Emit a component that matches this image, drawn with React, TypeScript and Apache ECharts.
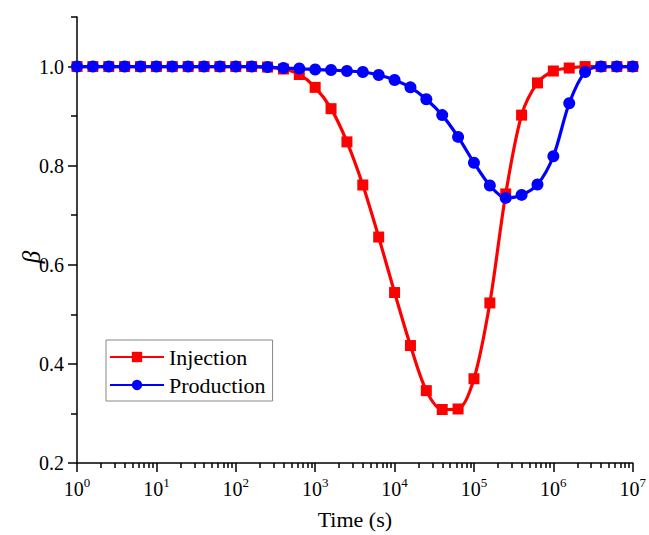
import React, { useEffect, useRef } from "react";
import * as echarts from "echarts";

const times = [
  1, 1.585, 2.512, 3.981, 6.31, 10, 15.85, 25.12, 39.81, 63.1,
  100, 158.5, 251.2, 398.1, 631.0, 1000, 1585, 2512, 3981, 6310,
  10000, 15849, 25119, 39811, 63096, 100000, 158489, 251189, 398107, 630957,
  1000000, 1584893, 2511886, 3981072, 6309573, 10000000,
];

const injection = [
  1.0, 1.0, 1.0, 1.0, 1.0, 1.0, 1.0, 1.0, 1.0, 1.0,
  1.0, 1.0, 0.999, 0.995, 0.984, 0.958, 0.915, 0.848, 0.761, 0.656,
  0.544, 0.437, 0.346, 0.308, 0.309, 0.37, 0.523, 0.743, 0.902, 0.967,
  0.991, 0.997, 1.0, 1.0, 1.0, 1.0,
];

const production = [
  1.0, 1.0, 1.0, 1.0, 1.0, 1.0, 1.0, 1.0, 1.0, 1.0,
  1.0, 1.0, 0.999, 0.997, 0.996, 0.994, 0.993, 0.991, 0.989, 0.983,
  0.973, 0.958, 0.934, 0.902, 0.858, 0.806, 0.76, 0.735, 0.741, 0.762,
  0.819, 0.926, 0.989, 1.0, 1.0, 1.0,
];

const yMajorTicks = [0.2, 0.4, 0.6, 0.8, 1.0];
const yMinorTicks = [0.3, 0.5, 0.7, 0.9, 1.1];
const xMinorMultipliers = [2, 3, 4, 5, 6, 7, 8, 9];
const decadeStarts = [1, 10, 100, 1000, 10000, 100000, 1000000];

const FONT = "'Liberation Serif', 'Times New Roman', serif";

export default function App() {
  const ref = useRef<HTMLDivElement>(null);

  useEffect(() => {
    if (!ref.current) return;
    const chart = echarts.init(ref.current, null, { renderer: "svg" });

    const xMinor: number[] = [];
    decadeStarts.forEach((d) => xMinorMultipliers.forEach((m) => xMinor.push(d * m)));

    const tickStyle = { color: "#000", width: 1.5 };

    chart.setOption({
      animation: false,
      backgroundColor: "#fff",
      grid: { left: 77, right: 13, top: 17, bottom: 69, containLabel: false },
      legend: {
        orient: "vertical",
        left: 106,
        top: 340,
        data: ["Injection", "Production"],
        borderColor: "#888",
        borderWidth: 1,
        padding: [6, 7, 5, 3],
        itemWidth: 54,
        itemHeight: 13,
        itemGap: 6,
        textStyle: { fontSize: 22, fontFamily: FONT, color: "#000" },
      },
      xAxis: [
        {
          type: "log",
          logBase: 10,
          min: 1,
          max: 10000000,
          position: "bottom",
          name: "Time (s)",
          nameLocation: "middle",
          nameGap: 45,
          nameTextStyle: { fontSize: 22, fontFamily: FONT, color: "#000" },
          axisLine: { show: true, onZero: false, lineStyle: tickStyle },
          axisTick: { show: true, inside: false, length: 9, lineStyle: tickStyle },
          splitLine: { show: false },
          minorTick: { show: false },
          axisLabel: {
            margin: 13,
            formatter: (v: number) => `{b|10}{s|${Math.round(Math.log10(v))}}`,
            rich: {
              b: { fontSize: 20, lineHeight: 26, fontFamily: FONT, color: "#000" },
              s: { fontSize: 13, lineHeight: 13, verticalAlign: "top", fontFamily: FONT, color: "#000" },
            },
          },
        },
        {
          type: "log",
          logBase: 10,
          min: 1,
          max: 10000000,
          position: "bottom",
          axisLine: { show: false },
          axisLabel: { show: false },
          splitLine: { show: false },
          axisTick: { show: true, inside: false, length: 5, lineStyle: tickStyle, customValues: xMinor },
        },
      ],
      yAxis: [
        {
          type: "value",
          min: 0.2,
          max: 1.1,
          position: "left",
          axisLine: { show: true, onZero: false, lineStyle: tickStyle },
          axisTick: { show: true, inside: false, length: 9, lineStyle: tickStyle, customValues: yMajorTicks },
          splitLine: { show: false },
          axisLabel: {
            margin: 13,
            customValues: yMajorTicks,
            formatter: (v: number) => v.toFixed(1),
            fontSize: 20,
            fontFamily: FONT,
            color: "#000",
          },
        },
        {
          type: "value",
          min: 0.2,
          max: 1.1,
          position: "left",
          axisLine: { show: false },
          axisLabel: { show: false },
          splitLine: { show: false },
          axisTick: { show: true, inside: false, length: 6, lineStyle: tickStyle, customValues: yMinorTicks },
        },
      ],
      graphic: [
        {
          type: "text",
          x: 31,
          y: 257,
          rotation: Math.PI / 2,
          style: {
            text: "β",
            font: `italic 25px ${FONT}`,
            fill: "#000",
            align: "center",
            verticalAlign: "middle",
          },
        },
      ],
      series: [
        {
          name: "Injection",
          type: "line",
          xAxisIndex: 0,
          yAxisIndex: 0,
          data: times.map((t, i) => [t, injection[i]]),
          smooth: 0.3,
          symbol: "rect",
          symbolSize: 11,
          showAllSymbol: true,
          color: "#ff0000",
          lineStyle: { color: "#ff0000", width: 3.2 },
          itemStyle: { color: "#ff0000" },
        },
        {
          name: "Production",
          type: "line",
          xAxisIndex: 0,
          yAxisIndex: 0,
          data: times.map((t, i) => [t, production[i]]),
          smooth: 0.3,
          symbol: "circle",
          symbolSize: 12,
          showAllSymbol: true,
          color: "#0000ff",
          lineStyle: { color: "#0000ff", width: 3.2 },
          itemStyle: { color: "#0000ff" },
        },
      ],
    });

    return () => chart.dispose();
  }, []);

  return <div ref={ref} style={{ width: 649, height: 535, position: "absolute", left: 0, top: 0 }} />;
}
